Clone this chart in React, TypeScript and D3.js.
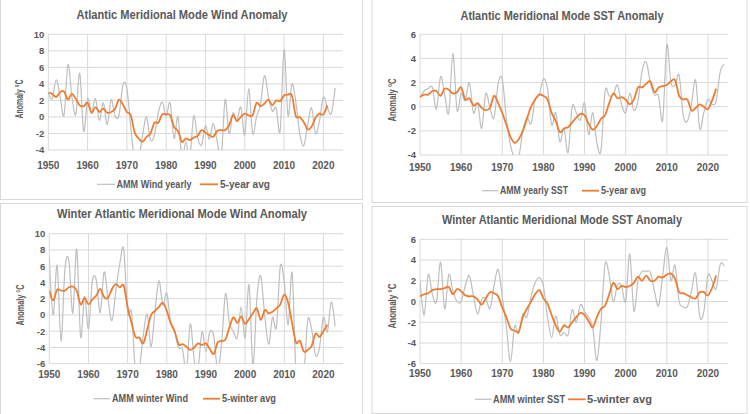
import React from 'react';
import * as d3 from 'd3';

const START_YEAR = 1950;
const X_TICKS = [1950, 1960, 1970, 1980, 1990, 2000, 2010, 2020];
const WIND_Y_TICKS = [-4, -2, 0, 2, 4, 6, 8, 10];
const SST_Y_TICKS = [-4, -2, 0, 2, 4, 6];
const WWIND_Y_TICKS = [-6, -4, -2, 0, 2, 4, 6, 8, 10];
const WSST_Y_TICKS = [-6, -4, -2, 0, 2, 4, 6];

// AMM wind yearly, 1950-2023
const windYearly = [
  2.9, 2.2, 4.5, 2.5, 0.2, 6.3, 2.5, 0.3, 5.3, -1.7,
  2.2, 0.5, 2.2, -0.4, 1.7, -0.9, 2.1, 0.1, 0.2, 3.9,
  3.4, -1.2, -5.5, -5.2, -2.2, 0.0, -2.8, -2.2, 0.5, 1.8,
  0.1, 1.7, -2.6, 0.0, -5.0, -3.0, -5.0, 0.1, -2.5, -3.4,
  -1.1, -2.7, -0.8, -3.0, -5.0, 2.1, -2.0, 0.5, -0.5, 1.2,
  -2.2, 3.4, -2.0, 0.0, 1.5, 5.0, 2.5, 0.7, 1.1, -1.7,
  8.1, 0.2, 4.0, 1.8, -2.0, -3.5, -1.0, 1.1, -2.0, -0.5,
  2.4, 1.2, 0.4, 3.5,
];
// 5-year average, 1950-2021
const windAvg = [
  2.9, 2.8, 2.4, 3.0, 3.1, 2.1, 2.8, 2.2, 1.4, 1.3,
  1.7, 0.5, 1.2, 0.6, 1.0, 0.5, 0.6, 1.0, 2.1, 1.5,
  0.6, 0.2, -1.9, -2.6, -3.0, -2.4, -2.0, -0.7, -0.7, 0.3,
  0.3, 0.2, -1.2, -1.7, -3.0, -2.6, -2.8, -2.5, -2.3, -1.6,
  -1.9, -2.2, -2.4, -1.7, -1.6, -1.6, -1.0, 0.2, -0.5, 0.0,
  0.4, 0.2, 0.2, 1.7, 1.3, 1.6, 2.1, 1.4, 2.0, 1.9,
  2.6, 2.7, 2.6, 0.1, 0.0, -0.6, -1.5, -1.2, -0.1, 0.4,
  0.3, 1.4,
];

// AMM yearly SST, 1950-2024
const sstYearly = [
  0.8, 1.3, 1.5, 1.6, -0.2, 2.5, 1.0, -0.5, 4.4, -0.3,
  1.1, 0.5, 2.0, -0.5, 0.3, -1.8, 1.1, -0.1, -0.9, 1.9,
  2.3, -1.0, -3.2, -4.2, -4.2, -2.0, -0.9, -1.4, 0.6, 1.0,
  2.3, 1.5, -1.5, -0.5, -2.9, -1.8, -3.8, 0.0, -0.5, -1.1,
  0.3, -2.3, -0.5, -3.0, -3.6, 1.3, 0.9, 1.0, 1.8, 0.2,
  -0.5, 1.1, -0.3, 0.5, 3.0, 3.7, 2.0, 1.0, 0.9, -1.1,
  5.1, 2.0, 1.8, 2.6, -0.7, -1.2, 0.2, 2.2, -1.8, -0.5,
  0.6, 0.2, 0.5, 2.9, 3.5,
];
// 5-year average, 1950-2022
const sstAvg = [
  0.8, 1.0, 1.0, 1.3, 1.3, 0.9, 1.5, 1.4, 1.1, 1.2,
  1.6, 0.6, 0.7, 0.1, 0.3, -0.1, -0.3, -0.1, 0.9, 0.3,
  -0.5, -1.5, -2.5, -3.0, -2.7, -2.0, -1.0, 0.0, 0.6, 1.0,
  0.9, 0.6, -0.5, -1.2, -2.1, -1.8, -1.7, -1.3, -0.9, -0.6,
  -0.7, -1.4, -1.9, -1.6, -1.0, -0.7, 0.3, 1.1, 0.7, 0.8,
  0.6, 0.2, 0.6, 1.6, 1.6, 1.9, 2.1, 1.2, 1.6, 1.7,
  1.8, 2.1, 2.2, 0.9, 0.6, 0.6, -0.3, -0.1, 0.2, 0.0,
  -0.2, 0.5, 1.5,
];

// AMM winter wind, 1950-2023
const windWinter = [
  7.0, 0.0, 6.1, -3.2, 5.7, 6.7, 0.2, 8.1, -2.7, 2.3,
  -1.7, 4.2, 4.3, 0.3, 5.3, 1.9, -0.7, 3.0, 6.3, 8.1,
  0.3, 0.3, -7.0, -6.5, -2.5, 0.1, -3.9, 0.5, 4.2, 1.2,
  2.7, -1.0, -2.0, -4.0, -4.2, -6.8, -1.1, -5.5, -6.5, -2.1,
  -4.5, -2.1, -2.6, -6.8, -3.5, 2.6, -1.0, -2.0, -2.8, 1.0,
  -2.8, 3.7, -6.3, 2.0, 4.8, 0.0, -3.6, -0.3, -1.5, 6.0,
  4.0, -1.2, 5.2, -7.0, -6.3, -7.0, -0.6, -1.8, -5.0, -4.0,
  -0.3, -2.1, 1.6, -1.4,
];
// 5-winter average, 1950-2021
const windWinterAvg = [
  3.0, 1.8, 3.1, 3.0, 3.0, 3.4, 3.5, 3.0, 1.3, 2.1,
  1.3, 1.9, 2.4, 3.2, 2.2, 2.1, 3.2, 3.8, 3.4, 3.6,
  1.0, -1.0, -2.7, -2.8, -3.5, -1.8, 0.0, 0.5, 1.0, 1.5,
  0.5, -1.0, -2.0, -3.6, -3.6, -3.9, -4.3, -4.0, -3.5, -3.7,
  -3.5, -4.2, -4.8, -3.4, -3.2, -3.0, -1.5, -0.3, -1.0, -0.2,
  -1.1, -0.5, 0.2, 0.8, -0.6, 0.6, 0.2, 0.4, 0.8, 1.3,
  2.5, 1.5, -1.0, -3.4, -3.2, -4.5, -4.3, -3.8, -2.3, -2.7,
  -2.0, -1.2,
];

// AMM winter SST, 1950-2024
const sstWinter = [
  2.0, -1.3, 2.6, 0.7, 0.0, 3.8, -0.7, 2.6, 1.0, 0.0,
  0.0, 1.5, 2.5, 0.5, -1.2, 0.2, 0.3, -0.7, 1.5, 3.1,
  0.5, -2.5, -5.8, -2.4, -3.1, -1.2, -1.5, 0.5, 1.8, 2.3,
  1.5, -1.5, -3.5, -1.4, -3.2, -3.0, -3.2, -0.8, -2.0, -0.3,
  -1.0, -1.5, -2.5, -5.7, -2.0, 3.6, 2.5, 0.0, 1.6, 1.5,
  0.0, 4.6, -0.9, 2.0, 2.9, 2.9, 2.8, 1.0, -0.4, 2.5,
  5.2, 2.0, 3.5, 0.0, -0.5, -0.5, 1.0, 2.7, -1.4, -1.0,
  2.5, 2.0, 1.2, 3.6, 3.4,
];
// 5-winter average, 1950-2022
const sstWinterAvg = [
  0.5, 0.7, 0.8, 1.1, 1.2, 1.2, 1.3, 1.4, 0.7, 1.2,
  1.0, 0.6, 0.5, 0.5, 0.2, -0.3, 0.3, 0.9, 0.8, 0.5,
  -0.6, -1.5, -2.6, -2.8, -2.9, -1.5, -0.7, 0.0, 0.7, 1.1,
  0.3, -0.2, -1.3, -2.3, -2.9, -2.3, -2.5, -2.0, -1.5, -1.1,
  -1.3, -1.9, -2.5, -1.5, -0.7, -0.4, 0.7, 1.8, 1.2, 1.5,
  1.4, 1.5, 1.8, 2.4, 2.0, 2.5, 2.0, 2.0, 2.4, 2.3,
  2.6, 2.7, 2.2, 0.9, 0.8, 0.6, 0.4, 0.3, 0.9, 0.9,
  0.6, 1.3, 2.5,
];

const TITLES = [
  'Atlantic Meridional Mode Wind Anomaly',
  'Atlantic Meridional Mode SST Anomaly',
  'Winter Atlantic Meridional Mode Wind Anomaly',
  'Winter Atlantic Meridional Mode SST Anomaly',
];
const RAW_LABELS = ['AMM Wind yearly', 'AMM yearly SST', 'AMM winter Wind', 'AMM winter SST'];
const AVG_LABELS = ['5-year avg', '5-year avg', '5-winter avg', '5-winter avg'];
const Y_TITLE = 'Anomaly °C';

const GREY = '#bfbfbf';
const ORANGE = '#ED7D31';
const GRID = '#d9d9d9';
const TEXT = '#595959';
const FONT = "'Liberation Sans', Arial, sans-serif";

type PanelProps = {
  id: string;
  box: [number, number, number, number];
  title: string;
  titleY: number;
  titleCx: number;
  titleLen: number;
  plot: { x0: number; x1: number; yTop: number; yBot: number };
  yDomain: [number, number];
  yTicks: number[];
  raw: number[];
  avg: number[];
  xLabelY: number;
  yTitle: { cx: number; cy: number; len: number };
  legend: { y: number; g0: number; g1: number; t1: number; t1Len: number; o0: number; o1: number; t2: number; t2Len: number };
  rawLabel: string;
  avgLabel: string;
};

function Panel(p: PanelProps) {
  const x = d3.scaleLinear().domain([1950, 2025]).range([p.plot.x0, p.plot.x1]);
  const y = d3.scaleLinear().domain(p.yDomain).range([p.plot.yBot, p.plot.yTop]);
  const line = d3
    .line<number>()
    .x((_, i) => x(START_YEAR + i))
    .y((d) => y(d))
    .curve(d3.curveCardinal.tension(0));
  const clipId = `clip-${p.id}`;
  return (
    <g>
      <rect x={p.box[0]} y={p.box[1]} width={p.box[2]} height={p.box[3]} fill="#fff" stroke={GRID} strokeWidth={1} />
      <text
        x={p.titleCx}
        y={p.titleY}
        textAnchor="middle"
        fontFamily={FONT}
        fontWeight="bold"
        fontSize={12.5}
        fill={TEXT}
        textLength={p.titleLen}
        lengthAdjust="spacingAndGlyphs"
      >
        {p.title}
      </text>
      <defs>
        <clipPath id={clipId}>
          <rect x={p.plot.x0} y={p.plot.yTop - 1} width={p.plot.x1 - p.plot.x0} height={p.plot.yBot - p.plot.yTop + 1} />
        </clipPath>
      </defs>
      {p.yTicks.map((t) => (
        <line key={`h${t}`} x1={p.plot.x0} x2={p.plot.x1} y1={y(t)} y2={y(t)} stroke={GRID} strokeWidth={1} />
      ))}
      {X_TICKS.map((t) => (
        <line key={`v${t}`} x1={x(t)} x2={x(t)} y1={p.plot.yTop} y2={p.plot.yBot} stroke={GRID} strokeWidth={1} />
      ))}
      <g clipPath={`url(#${clipId})`}>
        <path d={line(p.raw) || ''} fill="none" stroke={GREY} strokeWidth={1.2} />
        <path d={line(p.avg) || ''} fill="none" stroke={ORANGE} strokeWidth={1.8} />
      </g>
      {p.yTicks.map((t) => (
        <text key={`yl${t}`} x={p.plot.x0 - 4} y={y(t) + 3.3} textAnchor="end" fontFamily={FONT} fontWeight="bold" fontSize={9.5} fill={TEXT}>
          {t}
        </text>
      ))}
      {X_TICKS.map((t) => (
        <text key={`xl${t}`} x={x(t)} y={p.xLabelY} textAnchor="middle" fontFamily={FONT} fontWeight="bold" fontSize={10} fill={TEXT}>
          {t}
        </text>
      ))}
      <text
        transform={`translate(${p.yTitle.cx},${p.yTitle.cy}) rotate(-90)`}
        textAnchor="middle"
        dy="0.35em"
        fontFamily={FONT}
        fontWeight="bold"
        fontSize={10.5}
        fill={TEXT}
        textLength={p.yTitle.len}
        lengthAdjust="spacingAndGlyphs"
      >
        {Y_TITLE}
      </text>
      <line x1={p.legend.g0} x2={p.legend.g1} y1={p.legend.y} y2={p.legend.y} stroke={GREY} strokeWidth={1.2} />
      <text x={p.legend.t1} y={p.legend.y + 3.6} fontFamily={FONT} fontWeight="bold" fontSize={10} fill={TEXT} textLength={p.legend.t1Len} lengthAdjust="spacingAndGlyphs">
        {p.rawLabel}
      </text>
      <line x1={p.legend.o0} x2={p.legend.o1} y1={p.legend.y} y2={p.legend.y} stroke={ORANGE} strokeWidth={1.8} />
      <text x={p.legend.t2} y={p.legend.y + 3.6} fontFamily={FONT} fontWeight="bold" fontSize={10} fill={TEXT} textLength={p.legend.t2Len} lengthAdjust="spacingAndGlyphs">
        {p.avgLabel}
      </text>
    </g>
  );
}

export default function App() {
  return (
    <svg
      width={750}
      height={414}
      viewBox="0 0 750 414"
      style={{ position: 'fixed', left: 0, top: 0, background: '#f2f2f2' }}
    >
      <rect x={0} y={0} width={750} height={414} fill="#fff" />
      <Panel
        id="p1"
        box={[0.5, -1, 362, 200.5]}
        title={TITLES[0]}
        titleY={19}
        titleCx={182}
        titleLen={211}
        plot={{ x0: 48.3, x1: 343, yTop: 34.3, yBot: 150 }}
        yDomain={[-4, 10]}
        yTicks={WIND_Y_TICKS}
        raw={windYearly}
        avg={windAvg}
        xLabelY={168.5}
        yTitle={{ cx: 19, cy: 99, len: 39 }}
        legend={{ y: 184.3, g0: 97, g1: 115, t1: 116.5, t1Len: 75, o0: 200, o1: 218, t2: 220, t2Len: 50 }}
        rawLabel={RAW_LABELS[0]}
        avgLabel={AVG_LABELS[0]}
      />
      <Panel
        id="p2"
        box={[372, -1, 375, 203.5]}
        title={TITLES[1]}
        titleY={20}
        titleCx={562}
        titleLen={203}
        plot={{ x0: 420, x1: 728.5, yTop: 34.3, yBot: 155 }}
        yDomain={[-4, 6]}
        yTicks={SST_Y_TICKS}
        raw={sstYearly}
        avg={sstAvg}
        xLabelY={170.5}
        yTitle={{ cx: 392.5, cy: 100, len: 43 }}
        legend={{ y: 190.7, g0: 482, g1: 498.5, t1: 500, t1Len: 68, o0: 582, o1: 599, t2: 601, t2Len: 45 }}
        rawLabel={RAW_LABELS[1]}
        avgLabel={AVG_LABELS[1]}
      />
      <Panel
        id="p3"
        box={[0.5, 203.5, 362, 212]}
        title={TITLES[2]}
        titleY={218}
        titleCx={182}
        titleLen={250}
        plot={{ x0: 49.3, x1: 343, yTop: 233.7, yBot: 363.7 }}
        yDomain={[-6, 10]}
        yTicks={WWIND_Y_TICKS}
        raw={windWinter}
        avg={windWinterAvg}
        xLabelY={378}
        yTitle={{ cx: 20, cy: 305, len: 41 }}
        legend={{ y: 398.7, g0: 93.5, g1: 110, t1: 112, t1Len: 76, o0: 203, o1: 220, t2: 222, t2Len: 54 }}
        rawLabel={RAW_LABELS[2]}
        avgLabel={AVG_LABELS[2]}
      />
      <Panel
        id="p4"
        box={[372, 206.5, 375, 207]}
        title={TITLES[3]}
        titleY={224}
        titleCx={562}
        titleLen={240}
        plot={{ x0: 420, x1: 728.5, yTop: 239.3, yBot: 363.7 }}
        yDomain={[-6, 6]}
        yTicks={WSST_Y_TICKS}
        raw={sstWinter}
        avg={sstWinterAvg}
        xLabelY={376.5}
        yTitle={{ cx: 392.5, cy: 306, len: 45 }}
        legend={{ y: 399.3, g0: 475, g1: 491.7, t1: 493, t1Len: 72, o0: 568, o1: 585.7, t2: 587, t2Len: 65 }}
        rawLabel={RAW_LABELS[3]}
        avgLabel={AVG_LABELS[3]}
      />
    </svg>
  );
}
